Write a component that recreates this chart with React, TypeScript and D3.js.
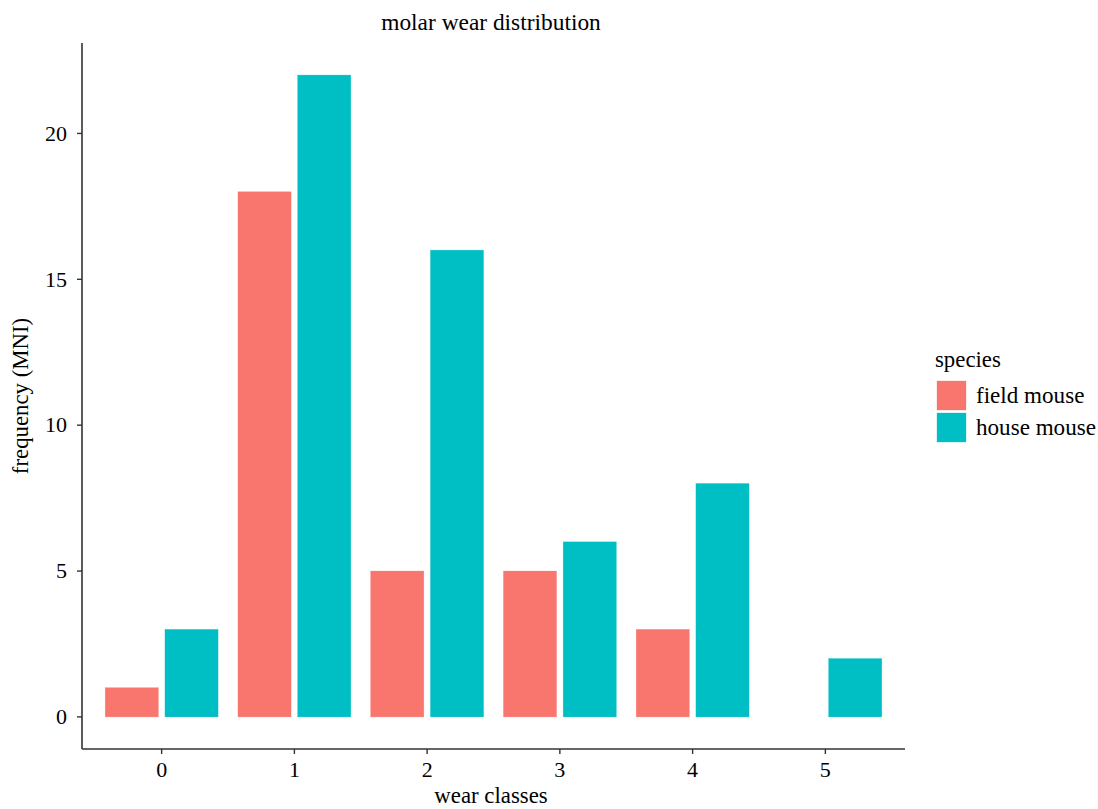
import React from "react";
import * as d3 from "d3";

const categories = ["0", "1", "2", "3", "4", "5"];
const species = ["field mouse", "house mouse"];
const fieldMouse = [1, 18, 5, 5, 3, 0];
const houseMouse = [3, 22, 16, 6, 8, 2];
const yTicks = [0, 5, 10, 15, 20];
const colors = ["#F8766D", "#00BFC4"];

const W = 1098;
const H = 809;
const left = 82, right = 905, top = 43, bottom = 749;
const font = "'Liberation Serif', 'Times New Roman', serif";

export default function App() {
  const x = d3.scaleLinear().domain([-0.6, categories.length - 1 + 0.6]).range([left, right]);
  const y = d3.scaleLinear().domain([-1.1, 23.1]).range([bottom, top]);
  const series = [fieldMouse, houseMouse];
  const dodge = 0.9;
  const barW = 0.4;
  return (
    <svg width={W} height={H} style={{ position: "absolute", left: 0, top: 0, background: "#fff" }}>
      <text x={491} y={30} textAnchor="middle" fontFamily={font} fontSize={23.4} fill="#000">
        molar wear distribution
      </text>
      {series.map((vals, si) =>
        vals.map((v, ci) => {
          if (v <= 0) return null;
          const cx = ci + (si - 0.5) * (dodge / 2);
          const x0 = x(cx - barW / 2);
          const x1 = x(cx + barW / 2);
          return (
            <rect key={`${si}-${ci}`} x={x0} y={y(v)} width={x1 - x0} height={y(0) - y(v)}
              fill={colors[si]} stroke={colors[si]} strokeOpacity={0.6} strokeWidth={0.5} />
          );
        })
      )}
      <line x1={left} x2={left} y1={top} y2={bottom} stroke="#333" strokeWidth={1.6} />
      <line x1={left} x2={right} y1={bottom} y2={bottom} stroke="#333" strokeWidth={1.6} />
      {yTicks.map((t) => (
        <g key={t}>
          <line x1={left - 5} x2={left} y1={y(t)} y2={y(t)} stroke="#333" strokeWidth={1.4} />
          <text x={left - 15} y={y(t)} dy="0.33em" textAnchor="end" fontFamily={font} fontSize={22} fill="#000">
            {t}
          </text>
        </g>
      ))}
      {categories.map((c, i) => (
        <g key={c}>
          <line x1={x(i)} x2={x(i)} y1={bottom} y2={bottom + 5} stroke="#333" strokeWidth={1.4} />
          <text x={x(i)} y={777} textAnchor="middle" fontFamily={font} fontSize={22} fill="#000">
            {c}
          </text>
        </g>
      ))}
      <text x={491} y={803} textAnchor="middle" fontFamily={font} fontSize={22.8} fill="#000">
        wear classes
      </text>
      <text transform={`translate(28, ${(top + bottom) / 2}) rotate(-90)`} textAnchor="middle"
        fontFamily={font} fontSize={22.8} fill="#000">
        frequency (MNI)
      </text>
      <text x={935} y={367} fontFamily={font} fontSize={22.8} fill="#000">species</text>
      {species.map((s, i) => (
        <g key={s}>
          <rect x={937} y={381 + i * 32} width={29} height={29} fill={colors[i]}
            stroke={colors[i]} strokeOpacity={0.6} strokeWidth={0.5} />
          <text x={976} y={403 + i * 32} fontFamily={font} fontSize={23.1} fill="#000">{s}</text>
        </g>
      ))}
    </svg>
  );
}
